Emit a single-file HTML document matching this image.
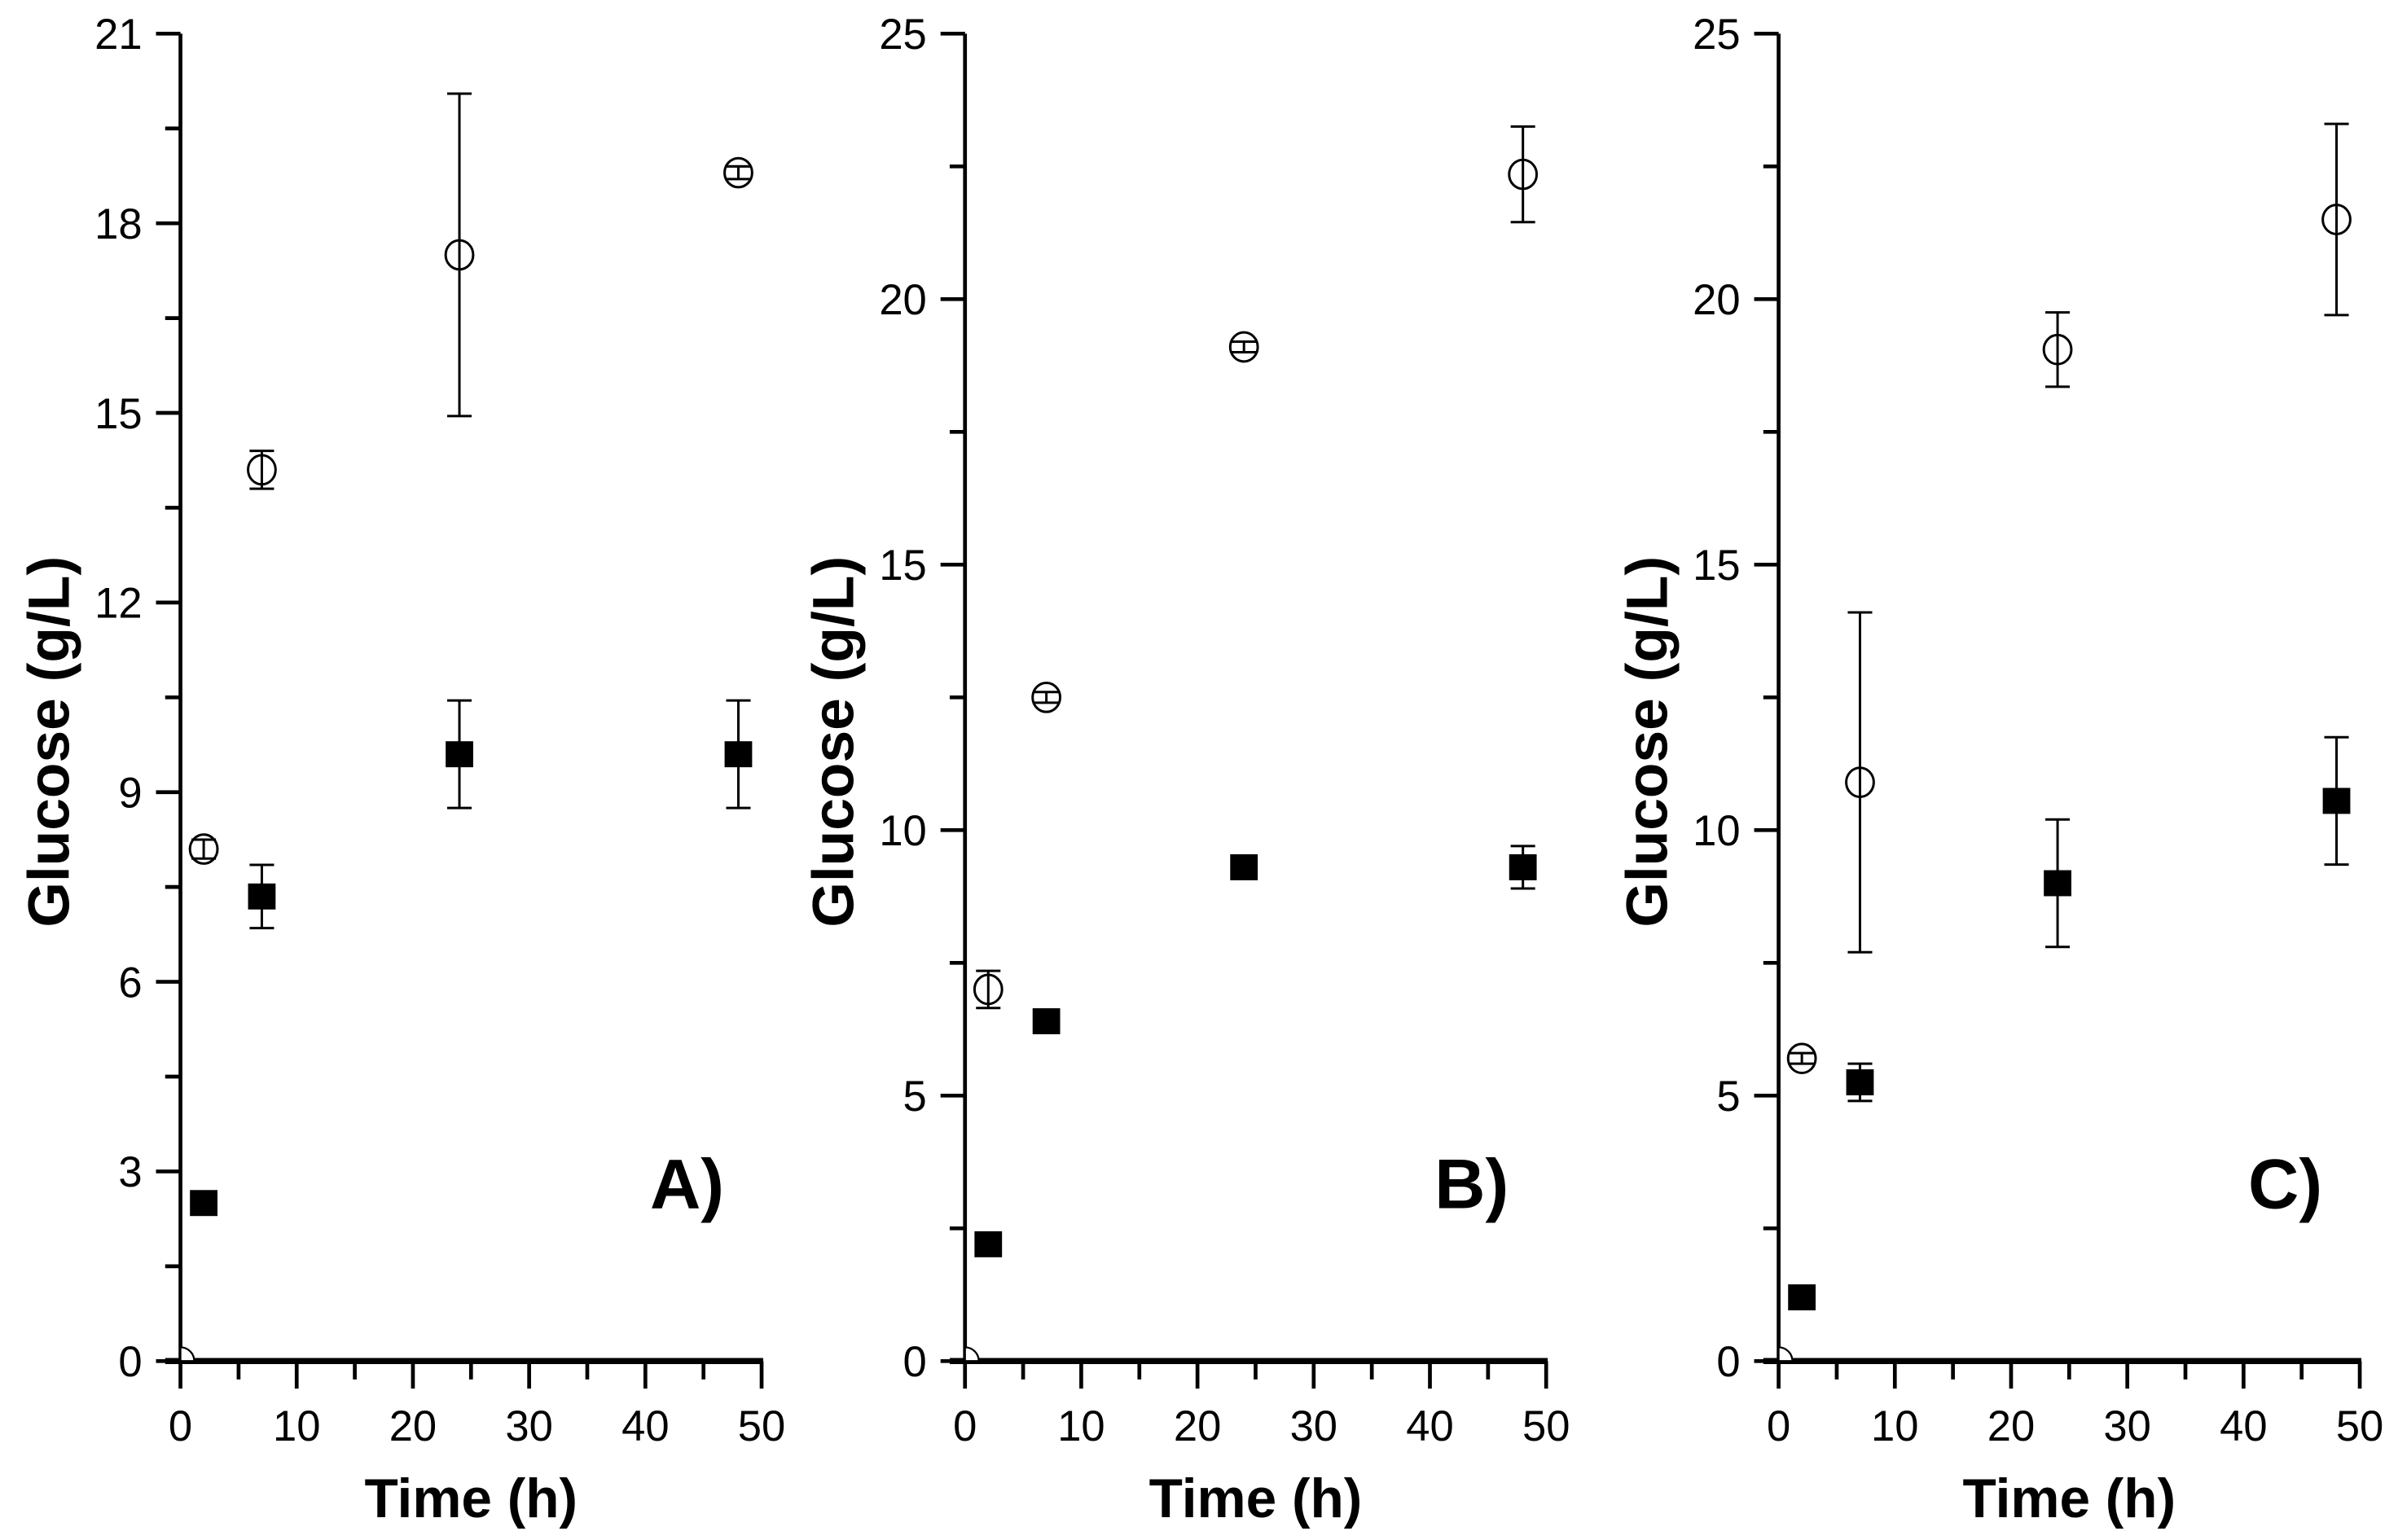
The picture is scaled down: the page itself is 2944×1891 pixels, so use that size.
<!DOCTYPE html>
<html><head><meta charset="utf-8"><style>
html,body{margin:0;padding:0;background:#fff;}
svg{display:block;}
text{font-family:"Liberation Sans",sans-serif;fill:#000;}
</style></head><body>
<svg id="chart" width="2944" height="1891" viewBox="0 0 1568 1007" preserveAspectRatio="none" xmlns="http://www.w3.org/2000/svg"></svg>
<script>
// Data
const times = [2, 7, 24, 48];
const panelLabels = ["A)", "B)", "C)"];
const yMaxes = [21, 25, 25];
const yTicksA = [0, 3, 6, 9, 12, 15, 18, 21];
const yTicksBC = [0, 5, 10, 15, 20, 25];
const xTicks = [0, 10, 20, 30, 40, 50];
const circA = [8.1, 14.1, 17.5, 18.8];
const circErrA = [0.15, 0.3, 2.55, 0.1];
const sqA = [2.5, 7.35, 9.6, 9.6];
const sqErrA = [0, 0.5, 0.85, 0.85];
const circB = [7.0, 12.5, 19.1, 22.35];
const circErrB = [0.35, 0.1, 0.1, 0.9];
const sqB = [2.2, 6.4, 9.3, 9.3];
const sqErrB = [0, 0, 0, 0.4];
const circC = [5.7, 10.9, 19.05, 21.5];
const circErrC = [0.1, 3.2, 0.7, 1.8];
const sqC = [1.2, 5.25, 9.0, 10.55];
const sqErrC = [0, 0.35, 1.2, 1.2];

const NS = "http://www.w3.org/2000/svg";
const svg = document.getElementById("chart");
function el(tag, attrs, parent) {
  const e = document.createElementNS(NS, tag);
  for (const k in attrs) e.setAttribute(k, attrs[k]);
  (parent || svg).appendChild(e);
  return e;
}
const panels = [
  {x0: 118, yTicks: yTicksA, minor: 1.5, circ: circA, ce: circErrA, sq: sqA, se: sqErrA},
  {x0: 631, yTicks: yTicksBC, minor: 2.5, circ: circB, ce: circErrB, sq: sqB, se: sqErrB},
  {x0: 1163, yTicks: yTicksBC, minor: 2.5, circ: circC, ce: circErrC, sq: sqC, se: sqErrC}
];
const Y0 = 890, YT = 22, W = 380;
panels.forEach((p, i) => {
  const g = el("g", {});
  
  
  const ymax = yMaxes[i];
  const sx = v => p.x0 + v / 50 * W;
  const sy = v => Y0 - v / ymax * (Y0 - YT);
  // axes
  const ya = el("line", {x1: p.x0, y1: YT, x2: p.x0, y2: Y0 + 2, stroke: "#000", "stroke-width": 2.5}, g);
  
  
  const xa = el("line", {x1: p.x0 - 10, y1: Y0, x2: p.x0 + W + 1, y2: Y0, stroke: "#000", "stroke-width": 4}, g);
  
  
  // x ticks
  for (let v = 0; v <= 50; v += 5) {
    const major = v % 10 === 0;
    el("line", {x1: sx(v), y1: Y0, x2: sx(v), y2: Y0 + (major ? 18 : 12), stroke: "#000", "stroke-width": 2.5}, g);
  }
  xTicks.forEach(v => {
    const t = el("text", {x: sx(v), y: Y0 + 52, "text-anchor": "middle", "font-size": 28}, g);
    t.textContent = v;
    
    
  });
  // y ticks
  for (let v = 0; v <= ymax + 0.001; v += p.minor) {
    const major = p.yTicks.some(t => Math.abs(t - v) < 0.01);
    el("line", {x1: p.x0, y1: sy(v), x2: p.x0 - (major ? 16 : 10), y2: sy(v), stroke: "#000", "stroke-width": 2.5}, g);
  }
  p.yTicks.forEach(v => {
    const t = el("text", {x: p.x0 - 25, y: sy(v) + 10, "text-anchor": "end", "font-size": 28}, g);
    t.textContent = v;
    
    
  });
  // titles
  const xt = el("text", {x: p.x0 + 190, y: 992, "text-anchor": "middle", "font-size": 36, "font-weight": "bold"}, g);
  xt.textContent = "Time (h)";
  
  
  const yt = el("text", {x: 0, y: 0, "text-anchor": "middle", "font-size": 38, "font-weight": "bold", transform: `translate(${p.x0 - 73},485) rotate(-90)`}, g);
  yt.textContent = "Glucose (g/L)";
  
  
  const pl = el("text", {x: p.x0 + 307, y: 790, "font-size": 46, "font-weight": "bold"}, g);
  pl.textContent = panelLabels[i];
  
  
  // origin marker
  const o = el("path", {d: `M${p.x0} ${Y0} L${p.x0} ${Y0-9} A9 9 0 0 1 ${p.x0+9} ${Y0} Z`, fill: "#fff", stroke: "#000", "stroke-width": 1.2}, g);
  
  
  function errbar(x, v, e) {
    if (!e) return;
    const eb = el("g", {stroke: "#000", "stroke-width": 1.6}, g);
    
    
    el("line", {x1: sx(x), y1: sy(v - e), x2: sx(x), y2: sy(v + e)}, eb);
    el("line", {x1: sx(x) - 8, y1: sy(v - e), x2: sx(x) + 8, y2: sy(v - e)}, eb);
    el("line", {x1: sx(x) - 8, y1: sy(v + e), x2: sx(x) + 8, y2: sy(v + e)}, eb);
  }
  times.forEach((t, k) => {
    const c = el("ellipse", {cx: sx(t), cy: sy(p.circ[k]), rx: 9, ry: 9.5, fill: "#fff", stroke: "#000", "stroke-width": 1.6}, g);
    
    
    errbar(t, p.circ[k], p.ce[k]);
    errbar(t, p.sq[k], p.se[k]);
    const s = el("rect", {x: sx(t) - 9, y: sy(p.sq[k]) - 8.5, width: 18, height: 17, fill: "#000"}, g);
    
    
  });
});
</script>
</body></html>
